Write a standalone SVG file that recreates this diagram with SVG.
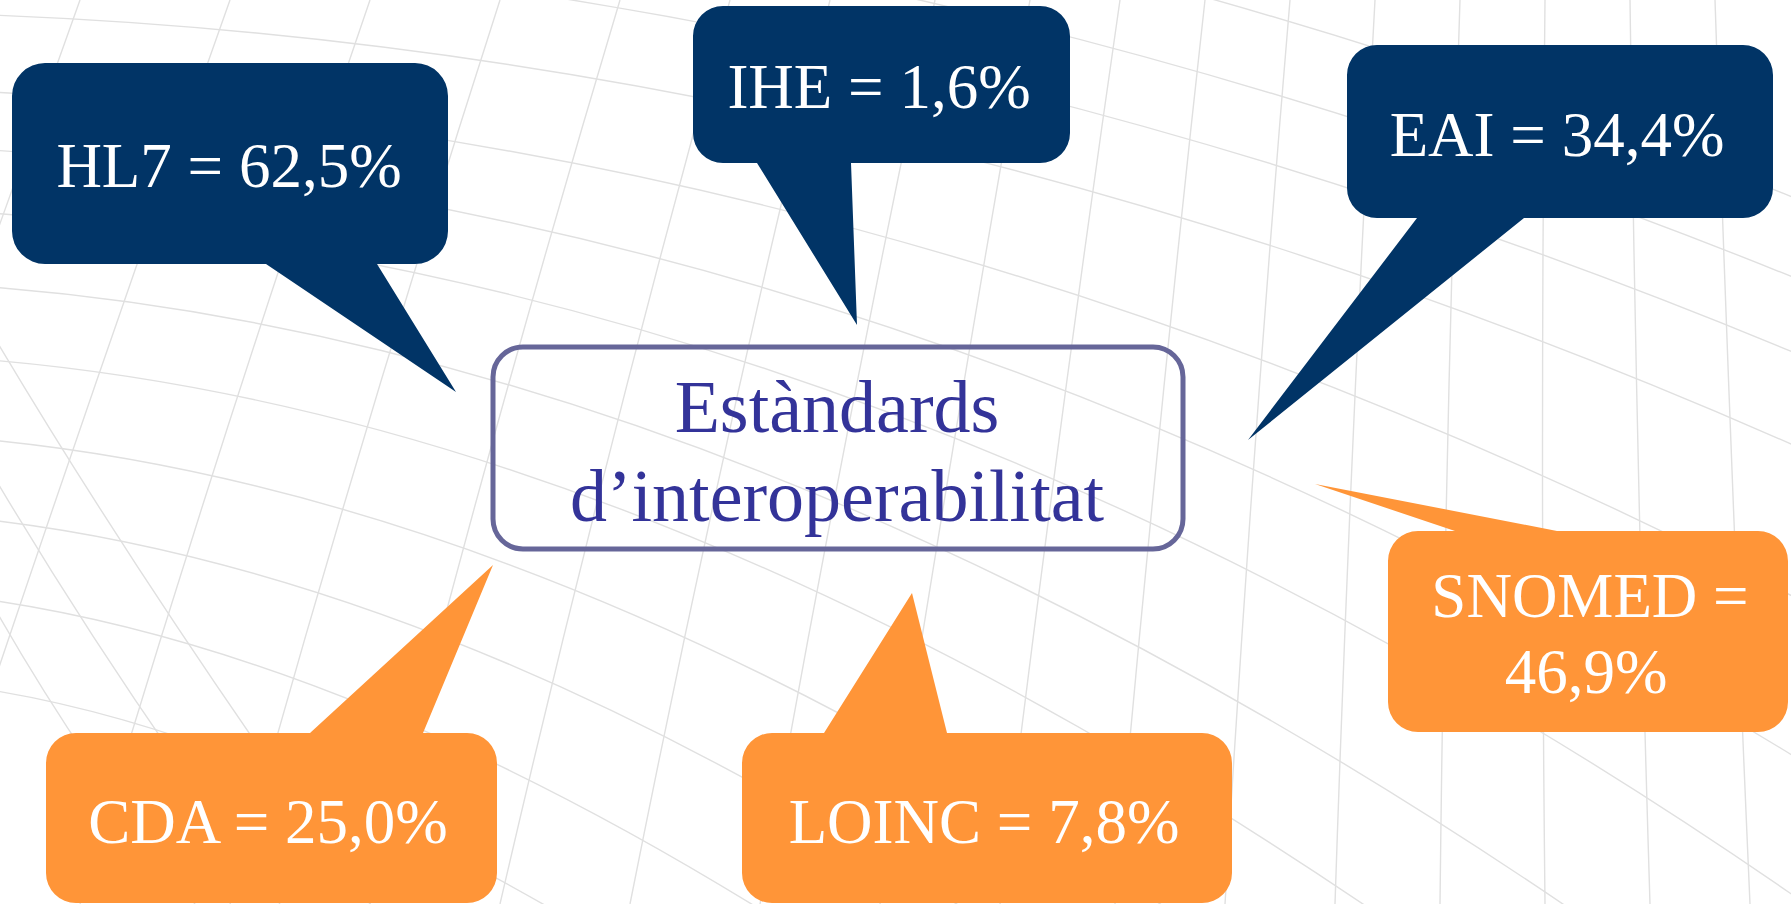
<svg xmlns="http://www.w3.org/2000/svg" width="1791" height="904" viewBox="0 0 1791 904">
<style>
.bg path{fill:none;stroke:#e0e0e0;stroke-width:1.4}
.navy{fill:#013466}
.orange{fill:#FF9538}
.lbl{font-family:"Liberation Serif","Times New Roman",serif;font-size:63px;fill:#ffffff;text-anchor:middle}
.ctr{font-family:"Liberation Serif","Times New Roman",serif;font-size:74px;fill:#333399;text-anchor:middle}
</style>
<rect width="1791" height="904" fill="#ffffff"/>
<g class="bg">
<path d="M -250,904 Q -80,450 80,0"/>
<path d="M -80,904 Q 70,450 230,0"/>
<path d="M 80,904 Q 215,450 370,0"/>
<path d="M 230,904 Q 355,450 500,0"/>
<path d="M 370,904 Q 485,450 620,0"/>
<path d="M 500,904 Q 605,450 730,0"/>
<path d="M 630,904 Q 720,450 830,0"/>
<path d="M 760,904 Q 840,450 935,0"/>
<path d="M 880,904 Q 950,450 1030,0"/>
<path d="M 1000,904 Q 1055,450 1120,0"/>
<path d="M 1115,904 Q 1155,450 1205,0"/>
<path d="M 1225,904 Q 1252,450 1290,0"/>
<path d="M 1335,904 Q 1350,450 1375,0"/>
<path d="M 1440,904 Q 1445,450 1460,0"/>
<path d="M 1545,904 Q 1540,450 1545,0"/>
<path d="M 1650,904 Q 1636,450 1630,0"/>
<path d="M 1750,904 Q 1730,450 1715,0"/>
<path d="M -10,-202 Q 900,-160 1800,200"/>
<path d="M -10,-128 Q 900,-86 1800,280"/>
<path d="M -10,-60 Q 900,-20 1800,355"/>
<path d="M -10,15 Q 900,50 1800,448"/>
<path d="M -10,92 Q 900,135 1800,600"/>
<path d="M -10,150 Q 900,205 1800,760"/>
<path d="M -10,213 Q 900,275 1800,900"/>
<path d="M -10,287 Q 800,350 1700,1000"/>
<path d="M -10,360 Q 700,420 1500,1000"/>
<path d="M -10,440 Q 600,500 1300,1000"/>
<path d="M -10,520 Q 500,580 1100,1000"/>
<path d="M -10,600 Q 400,660 900,1000"/>
<path d="M -10,690 Q 300,740 700,1000"/>
<path d="M -10,330 Q 150,600 370,904"/>
<path d="M -10,470 Q 120,690 280,904"/>
<path d="M -10,600 Q 80,760 195,904"/>
</g>
<g id="center">
<rect x="493" y="347" width="690" height="202" rx="30" ry="30" fill="none" stroke="#666699" stroke-width="5"/>
<text class="ctr" x="837" y="432">Estàndards</text>
<text class="ctr" x="837" y="521">d’interoperabilitat</text>
</g>
<g id="connectors"></g>
<g id="hl7">
<path class="navy" d="M 45,63 H 415 A 33 33 0 0 1 448,96 V 231 A 33 33 0 0 1 415,264 H 377 L 456,392 L 266,264 H 45 A 33 33 0 0 1 12,231 V 96 A 33 33 0 0 1 45,63 Z"/>
<text class="lbl" x="229" y="187">HL7 = 62,5%</text>
</g>
<g id="ihe">
<path class="navy" d="M 723,6 H 1040 A 30 30 0 0 1 1070,36 V 133 A 30 30 0 0 1 1040,163 H 851 L 857,325 L 757,163 H 723 A 30 30 0 0 1 693,133 V 36 A 30 30 0 0 1 723,6 Z"/>
<text class="lbl" x="879" y="108">IHE = 1,6%</text>
</g>
<g id="eai">
<path class="navy" d="M 1377,45 H 1743 A 30 30 0 0 1 1773,75 V 188 A 30 30 0 0 1 1743,218 H 1524 L 1248,440 L 1417,218 H 1377 A 30 30 0 0 1 1347,188 V 75 A 30 30 0 0 1 1377,45 Z"/>
<text class="lbl" x="1557" y="156">EAI = 34,4%</text>
</g>
<g id="cda">
<path class="orange" d="M 76,733 H 310 L 493,565 L 423,733 H 467 A 30 30 0 0 1 497,763 V 873 A 30 30 0 0 1 467,903 H 76 A 30 30 0 0 1 46,873 V 763 A 30 30 0 0 1 76,733 Z"/>
<text class="lbl" x="268" y="843">CDA = 25,0%</text>
</g>
<g id="loinc">
<path class="orange" d="M 772,733 H 824 L 912,593 L 947,733 H 1202 A 30 30 0 0 1 1232,763 V 873 A 30 30 0 0 1 1202,903 H 772 A 30 30 0 0 1 742,873 V 763 A 30 30 0 0 1 772,733 Z"/>
<text class="lbl" x="984" y="843">LOINC = 7,8%</text>
</g>
<g id="snomed">
<path class="orange" d="M 1418,531 H 1455 L 1315,484 L 1557,531 H 1758 A 30 30 0 0 1 1788,561 V 702 A 30 30 0 0 1 1758,732 H 1418 A 30 30 0 0 1 1388,702 V 561 A 30 30 0 0 1 1418,531 Z"/>
<text class="lbl" x="1590" y="617">SNOMED =</text>
<text class="lbl" x="1586" y="693">46,9%</text>
</g>
</svg>
